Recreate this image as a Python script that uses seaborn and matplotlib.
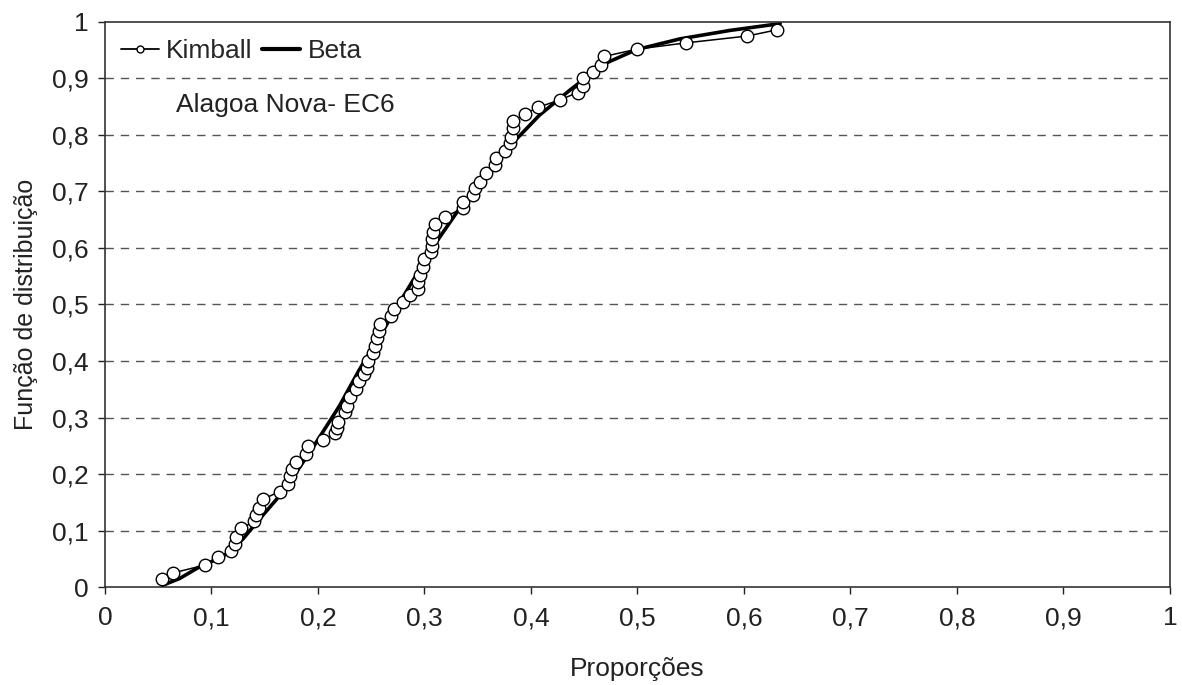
import matplotlib
matplotlib.use("Agg")
import matplotlib.pyplot as plt
from matplotlib.lines import Line2D
from matplotlib.ticker import FuncFormatter, MultipleLocator
import seaborn as sns
import pandas as pd

# Empirical distribution (Kimball plotting positions)
kimball_x = [0.054, 0.064, 0.094, 0.106, 0.118, 0.122, 0.123, 0.128, 0.140, 0.142,
             0.145, 0.148, 0.164, 0.172, 0.174, 0.176, 0.179, 0.189, 0.191, 0.205,
             0.216, 0.218, 0.219, 0.225, 0.227, 0.230, 0.236, 0.239, 0.243, 0.246,
             0.247, 0.252, 0.254, 0.255, 0.257, 0.258, 0.269, 0.271, 0.280, 0.286,
             0.294, 0.294, 0.296, 0.299, 0.300, 0.306, 0.307, 0.307, 0.308, 0.310,
             0.319, 0.336, 0.336, 0.346, 0.347, 0.352, 0.358, 0.366, 0.367, 0.376,
             0.380, 0.381, 0.383, 0.383, 0.394, 0.407, 0.427, 0.444, 0.449, 0.449,
             0.458, 0.466, 0.469, 0.500, 0.546, 0.603, 0.631]
kimball_y = [0.014, 0.025, 0.039, 0.054, 0.063, 0.076, 0.089, 0.104, 0.116, 0.128,
             0.140, 0.155, 0.169, 0.183, 0.196, 0.208, 0.221, 0.236, 0.249, 0.261,
             0.272, 0.282, 0.292, 0.309, 0.321, 0.337, 0.351, 0.365, 0.377, 0.388,
             0.400, 0.415, 0.427, 0.440, 0.453, 0.465, 0.480, 0.492, 0.504, 0.517,
             0.528, 0.539, 0.552, 0.566, 0.581, 0.593, 0.604, 0.616, 0.628, 0.643,
             0.655, 0.670, 0.682, 0.694, 0.706, 0.717, 0.732, 0.747, 0.760, 0.772,
             0.785, 0.797, 0.812, 0.824, 0.837, 0.849, 0.862, 0.875, 0.887, 0.900,
             0.912, 0.924, 0.939, 0.952, 0.963, 0.975, 0.986]

# Fitted Beta distribution function
beta_x = [0.054, 0.070, 0.089, 0.100, 0.116, 0.130, 0.145, 0.161, 0.175, 0.197,
          0.220, 0.239, 0.247, 0.260, 0.274, 0.290, 0.311, 0.330, 0.350, 0.370,
          0.385, 0.408, 0.437, 0.468, 0.499, 0.540, 0.587, 0.634]
beta_y = [0.003, 0.015, 0.036, 0.045, 0.060, 0.086, 0.120, 0.155, 0.190, 0.252,
          0.320, 0.385, 0.410, 0.450, 0.495, 0.545, 0.610, 0.662, 0.710, 0.755,
          0.790, 0.835, 0.880, 0.925, 0.951, 0.970, 0.985, 0.997]

station_label = "Alagoa Nova- EC6"
x_label = "Proporções"
y_label = "Função de distribuição"

kimball = pd.DataFrame({"x": kimball_x, "y": kimball_y})
beta = pd.DataFrame({"x": beta_x, "y": beta_y})

sns.set_theme(style="white")
plt.rcParams["font.family"] = ["Liberation Sans", "DejaVu Sans"]

TEXT = "#222222"

fig = plt.figure(figsize=(11.82, 6.85), dpi=100)
ax = fig.add_axes([0.0888, 0.143, 0.9010, 0.825])

# Horizontal dashed grid
for g in [0.1, 0.2, 0.3, 0.4, 0.5, 0.6, 0.7, 0.8, 0.9]:
    ax.axhline(g, color="#555555", linewidth=1.0, dashes=(6, 5), zorder=0)

sns.lineplot(data=beta, x="x", y="y", ax=ax, sort=False, estimator=None,
             color="black", linewidth=2.6, zorder=2)
sns.lineplot(data=kimball, x="x", y="y", ax=ax, sort=False, estimator=None,
             color="black", linewidth=1.1, marker="o", markersize=9,
             markerfacecolor="white", markeredgecolor="black",
             markeredgewidth=1.0, zorder=3)

ax.set_xlim(0, 1)
ax.set_ylim(0, 1)
ax.xaxis.set_major_locator(MultipleLocator(0.1))
ax.yaxis.set_major_locator(MultipleLocator(0.1))


def comma_fmt(v, pos):
    r = round(v, 1)
    if abs(r - round(r)) < 1e-9:
        return str(int(round(r)))
    return f"{r:.1f}".replace(".", ",")


ax.xaxis.set_major_formatter(FuncFormatter(comma_fmt))
ax.yaxis.set_major_formatter(FuncFormatter(comma_fmt))
ax.tick_params(axis="both", which="major", labelsize=19, colors=TEXT,
               length=5, width=1, direction="out", bottom=True, left=True)
ax.tick_params(axis="x", pad=9)
ax.tick_params(axis="y", pad=7)

for sp in ax.spines.values():
    sp.set_visible(True)
    sp.set_color("#333333")
    sp.set_linewidth(1.2)

ax.set_xlabel(x_label, fontsize=19, color=TEXT, labelpad=19)
ax.set_ylabel(y_label, fontsize=18, color=TEXT, labelpad=10)

handles = [
    Line2D([0], [0], color="black", linewidth=1.3, marker="o", markersize=5,
           markerfacecolor="white", markeredgecolor="black"),
    Line2D([0], [0], color="black", linewidth=3.0),
]
ax.legend(handles, ["Kimball", "Beta"], loc="center left", ncol=2, frameon=False,
          fontsize=19, handlelength=1.45, handletextpad=0.27, columnspacing=0.35,
          borderpad=0, borderaxespad=0, bbox_to_anchor=(0.015, 0.949))

ax.text(0.067, 0.853, station_label, transform=ax.transAxes, fontsize=19,
        color=TEXT, va="center", ha="left")

fig.savefig("out.png", dpi=100, facecolor="white")
